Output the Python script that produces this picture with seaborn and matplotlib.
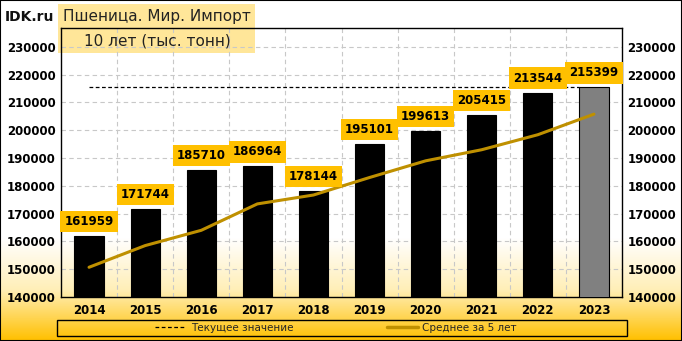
import numpy as np
import pandas as pd
import matplotlib
matplotlib.use("Agg")
import matplotlib.pyplot as plt
import seaborn as sns
from matplotlib.lines import Line2D
from matplotlib.patches import Rectangle
from matplotlib.colors import LinearSegmentedColormap

years = ["2014", "2015", "2016", "2017", "2018", "2019", "2020", "2021", "2022", "2023"]
values = [161959, 171744, 185710, 186964, 178144, 195101, 199613, 205415, 213544, 215399]
avg5 = [150700, 158500, 164000, 173500, 176700, 183000, 189000, 193000, 198400, 205800]
title1 = "Пшеница. Мир. Импорт"
title2 = "10 лет (тыс. тонн)"
legend_labels = ["Текущее значение", "Среднее за 5 лет"]
yticks = [140000, 150000, 160000, 170000, 180000, 190000, 200000, 210000, 220000, 230000]

sns.set_theme(style="white")
plt.rcParams['font.family'] = ['DejaVu Sans']

W, H = 682, 341
fig = plt.figure(figsize=(W / 100, H / 100), dpi=100)

# background gradient
bg = fig.add_axes([0, 0, 1, 1], zorder=-10)
rows = np.linspace(0, 1, H)
start = 238 / H
grad = np.clip((rows - start) / (1 - start), 0, 1)
cmap = LinearSegmentedColormap.from_list("g", ["#FFFFFF", "#FFEFB8", "#FFC000"])
bg.imshow(grad[:, None], aspect="auto", cmap=cmap, extent=[0, 1, 0, 1], origin="upper", vmin=0, vmax=1)
bg.set_axis_off()

# title box
fig.patches.append(Rectangle((58 / W, 1 - 53 / H), 197 / W, 49 / H, transform=fig.transFigure,
                             facecolor="#FFE699", edgecolor="none", zorder=-5))
fig.text(157 / W, 1 - 17 / H, title1, ha="center", va="center", fontsize=11, color="#222222")
fig.text(157 / W, 1 - 41 / H, title2, ha="center", va="center", fontsize=11, color="#222222")
fig.text(5 / W, 1 - 17 / H, "IDK.ru", ha="left", va="center", fontsize=10, fontweight="bold", color="#111111")

ax = fig.add_axes([61 / W, 1 - 297 / H, (622 - 61) / W, (297 - 28) / H])
ax.set_facecolor("none")

df = pd.DataFrame({"year": years, "value": values, "avg": avg5})
colors = ["#000000"] * (len(years) - 1) + ["#808080"]
sns.barplot(data=df, x="year", y="value", hue="year", palette=colors, legend=False,
            width=0.52, edgecolor="black", linewidth=0.8, ax=ax, zorder=3)

sns.lineplot(x=np.arange(len(years)), y=df["avg"], color="#BF9000", linewidth=2.2, ax=ax, zorder=4)

# dashed current value line
current = values[-1]
ax.plot([0, len(years) - 1 - 0.26], [current, current], ls=(0, (3, 2)), color="black", lw=0.9, zorder=5)

for i, v in enumerate(values):
    ax.annotate(f"{v}", (i, v), xytext=(0, 10.5), textcoords="offset points", ha="center", va="center",
                fontsize=8.5, fontweight="bold", color="black", zorder=6,
                bbox=dict(boxstyle="square,pad=0.35", facecolor="#FFC000", edgecolor="none"))

ax.set_xlim(-0.5, len(years) - 0.5)
ax.set_ylim(140000, 236800)
ax.set_yticks(yticks)
ax.set_yticklabels([str(t) for t in yticks])
ax.set_xticks(range(len(years)))
ax.set_xticklabels(years)
ax.set_xticks(np.arange(0.5, len(years) - 0.5, 1), minor=True)
ax.grid(True, axis="y", which="major", ls=(0, (4, 3)), color="#C8C8C8", lw=0.8, zorder=0)
ax.grid(True, axis="x", which="minor", ls=(0, (4, 3)), color="#C8C8C8", lw=0.8, zorder=0)
ax.grid(False, axis="x", which="major")
ax.set_axisbelow(True)
ax.set_xlabel("")
ax.set_ylabel("")
ax.tick_params(axis="y", which="both", length=0, labelright=True, labelleft=True, pad=4,
               labelsize=8.5)
ax.tick_params(axis="x", which="both", length=0, pad=5, labelsize=8.5)
for lab in ax.get_xticklabels() + ax.get_yticklabels():
    lab.set_fontweight("bold")
    lab.set_color("black")
for s in ax.spines.values():
    s.set_visible(True)
    s.set_color("black")
    s.set_linewidth(1)

# legend box
fig.patches.append(Rectangle((57 / W, 1 - 336 / H), (627 - 57) / W, 16 / H, transform=fig.transFigure,
                             facecolor="none", edgecolor="black", lw=1, zorder=5))
handles = [Line2D([], [], color="black", ls=(0, (3, 2)), lw=0.9),
           Line2D([], [], color="#BF9000", lw=2.5)]
fig.legend(handles, legend_labels, loc="center", bbox_to_anchor=(336 / W, 1 - 328 / H), ncol=2,
           frameon=False, fontsize=7.5, handlelength=3, handletextpad=0.4, columnspacing=9,
           borderpad=0, borderaxespad=0)

# figure border
fig.patches.append(Rectangle((0, 0), 1, 1, transform=fig.transFigure, facecolor="none",
                             edgecolor="black", lw=1.5, zorder=10))

fig.savefig("out.png", dpi=100)
